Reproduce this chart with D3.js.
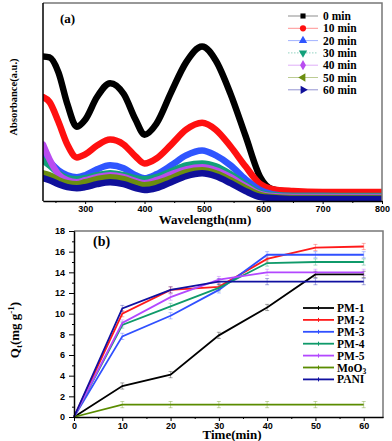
<!DOCTYPE html>
<html>
<head>
<meta charset="utf-8">
<script src="https://cdn.jsdelivr.net/npm/d3@7"></script>
<style>
body{margin:0;background:#fff;}
.tick text{font-family:"Liberation Sans",Arial,sans-serif;font-weight:bold;font-size:9px;}
.lbl{font-family:"Liberation Serif","Times New Roman",serif;font-weight:bold;}
</style>
</head>
<body>
<script>
//----- panel (a) data: UV-vis spectra -----
var wavelengths = [229,240,255,270,286,300,320,342,365,385,400,420,445,470,497,520,545,570,595,615,650,700,800];
var specLabels = ["0 min","10 min","20 min","30 min","40 min","50 min","60 min"];
var spec0  = [1.46,1.45,1.30,0.98,0.75,0.82,1.05,1.19,1.08,0.82,0.67,0.78,1.10,1.40,1.56,1.42,1.08,0.66,0.24,0.12,0.09,0.08,0.07];
var spec10 = [1.05,1.00,0.80,0.57,0.44,0.47,0.56,0.62,0.57,0.45,0.38,0.43,0.57,0.72,0.79,0.72,0.55,0.35,0.17,0.12,0.10,0.09,0.09];
var spec20 = [0.48,0.40,0.31,0.26,0.24,0.26,0.32,0.36,0.33,0.26,0.23,0.27,0.36,0.46,0.51,0.46,0.36,0.22,0.11,0.07,0.05,0.05,0.04];
var spec30 = [0.41,0.36,0.28,0.23,0.22,0.23,0.26,0.28,0.26,0.23,0.22,0.24,0.30,0.36,0.38,0.35,0.27,0.17,0.08,0.06,0.05,0.05,0.05];
var spec40 = [0.57,0.42,0.27,0.21,0.19,0.21,0.24,0.26,0.24,0.20,0.18,0.21,0.27,0.32,0.34,0.31,0.24,0.15,0.07,0.05,0.04,0.04,0.04];
var spec50 = [0.28,0.26,0.21,0.18,0.17,0.19,0.22,0.24,0.22,0.18,0.16,0.18,0.23,0.29,0.31,0.28,0.21,0.13,0.06,0.04,0.03,0.03,0.03];
var spec60 = [0.23,0.21,0.17,0.14,0.13,0.14,0.17,0.19,0.17,0.13,0.11,0.13,0.19,0.25,0.28,0.25,0.18,0.10,0.04,0.03,0.02,0.02,0.02];
var specSeries = [spec0,spec10,spec20,spec30,spec40,spec50,spec60];
var specColors = ["#000000","#ff1010","#2f55ff","#12a07a","#b94cf0","#6b8e10","#10109a"];
var wlTicks = [300,400,500,600,700,800];

//----- panel (b) data: adsorption vs time -----
var times = [0,10,20,30,40,50,60];
var qLabels = ["PM-1","PM-2","PM-3","PM-4","PM-5","MoO3","PANI"];
var pm1  = [0,3.0,4.1,7.9,10.6,13.8,13.8];
var pm2  = [0,10.0,12.3,12.6,15.3,16.4,16.5];
var pm3  = [0,7.8,9.8,12.3,15.7,15.7,15.7];
var pm4  = [0,8.9,10.7,12.5,14.9,15.0,15.0];
var pm5  = [0,9.1,11.6,13.3,14.0,14.0,14.0];
var moo3 = [0,1.2,1.2,1.2,1.2,1.2,1.2];
var pani = [0,10.5,12.3,13.1,13.1,13.1,13.1];
var qSeries = [pm1,pm2,pm3,pm4,pm5,moo3,pani];
var qErr = [0,0.3,0.3,0.3,0.3,0.3,0.3];
var qColors = ["#000000","#ff1a1a","#3050ff","#0f9a6a","#b348ff","#5a8c00","#1010a0"];
var timeTicks = [0,10,20,30,40,50,60];
var qTicks = [0,2,4,6,8,10,12,14,16,18];

var width = 392, height = 441;

var svg = d3.select("body")
    .append("svg")
    .attr("width", width)
    .attr("height", height);

//=================== panel (a) ===================
var xA = d3.scaleLinear().domain([229,800]).range([43,382]);
var yA = d3.scaleLinear().domain([0,2]).range([201,3]);

svg.append("clipPath").attr("id","clipA")
    .append("rect").attr("x",43).attr("y",3).attr("width",339).attr("height",198);

var lineA = d3.line()
    .x(function(d,i){ return xA(wavelengths[i]); })
    .y(function(d){ return yA(d); })
    .curve(d3.curveMonotoneX);

svg.append("g").attr("clip-path","url(#clipA)")
    .selectAll(".spec")
    .data(specSeries)
    .enter()
    .append("path")
    .attr("class","spec")
    .attr("fill","none")
    .attr("stroke", function(d,i){ return specColors[i]; })
    .attr("stroke-width", 6.5)
    .attr("stroke-linecap","round")
    .attr("d", lineA);

//frame top/right
svg.append("path")
    .attr("d","M43,3H382V201")
    .attr("fill","none").attr("stroke","#777").attr("stroke-width",1.5);

//x axis
svg.append("g")
    .attr("transform","translate(0,201)")
    .call(d3.axisBottom(xA).tickValues(d3.range(250,800,100)).tickSize(2).tickFormat("").tickSizeOuter(0));
svg.append("g")
    .attr("transform","translate(0,201)")
    .call(d3.axisBottom(xA).tickValues(wlTicks).tickSize(3).tickPadding(2).tickSizeOuter(0))
    .call(function(g){ g.select(".domain").attr("stroke-width",1.5); });
//left axis line, no ticks
svg.append("line").attr("x1",43).attr("x2",43).attr("y1",3).attr("y2",201)
    .attr("stroke","#000").attr("stroke-width",1.5);

svg.append("text").attr("class","lbl")
    .attr("x",60).attr("y",23).attr("font-size",13)
    .text("(a)");

svg.append("text").attr("class","lbl")
    .attr("x",205).attr("y",224).attr("font-size",13)
    .attr("text-anchor","middle")
    .text("Wavelength(nm)");

svg.append("text").attr("class","lbl")
    .attr("transform","translate(17,97) rotate(-90)")
    .attr("font-size",10.5).attr("text-anchor","middle")
    .text("Absorbance(a.u.)");

//legend (a)
var symTypes = [d3.symbolSquare,d3.symbolCircle,d3.symbolTriangle,d3.symbolTriangle,d3.symbolDiamond,d3.symbolTriangle,d3.symbolTriangle];
var symRot = [0,0,0,180,0,-90,90];
var legA = svg.selectAll(".legA")
    .data(specLabels)
    .enter()
    .append("g")
    .attr("class","legA")
    .attr("transform", function(d,i){ return "translate(0," + (16 + i*12.3) + ")"; });
legA.append("line")
    .attr("x1",288).attr("x2",318)
    .attr("stroke", function(d,i){ return specColors[i]; })
    .attr("stroke-opacity",0.45)
    .attr("stroke-dasharray", function(d,i){ return i==3 ? "1.5,1.5" : null; })
    .attr("stroke-width",1);
legA.append("path")
    .attr("d", function(d,i){ return d3.symbol().type(symTypes[i]).size(i==0 ? 26 : 30)(); })
    .attr("transform", function(d,i){ return "translate(303,0) rotate(" + symRot[i] + ")"; })
    .attr("fill", function(d,i){ return specColors[i]; });
legA.append("text").attr("class","lbl")
    .attr("x",323).attr("dy","0.35em").attr("font-size",11.5)
    .text(function(d){ return d; });

//=================== panel (b) ===================
var xB = d3.scaleLinear().domain([0,64]).range([74,383]);
var yB = d3.scaleLinear().domain([0,18]).range([417,231]);

//frame top/right
svg.append("path")
    .attr("d","M74,231H383V417")
    .attr("fill","none").attr("stroke","#777").attr("stroke-width",1.5);

var lineB = d3.line()
    .x(function(d,i){ return xB(times[i]); })
    .y(function(d){ return yB(d); });

//error bars
qSeries.forEach(function(s,k){
    var eb = svg.append("g")
        .attr("stroke", qColors[k])
        .attr("stroke-opacity",0.35)
        .attr("stroke-width",1);
    s.forEach(function(v,i){
        if (qErr[i] == 0) return;
        var x = xB(times[i]);
        eb.append("line").attr("x1",x).attr("x2",x).attr("y1",yB(v-qErr[i])).attr("y2",yB(v+qErr[i]));
        eb.append("line").attr("x1",x-2).attr("x2",x+2).attr("y1",yB(v-qErr[i])).attr("y2",yB(v-qErr[i]));
        eb.append("line").attr("x1",x-2).attr("x2",x+2).attr("y1",yB(v+qErr[i])).attr("y2",yB(v+qErr[i]));
    });
});

svg.selectAll(".qline")
    .data(qSeries)
    .enter()
    .append("path")
    .attr("class","qline")
    .attr("fill","none")
    .attr("stroke", function(d,i){ return qColors[i]; })
    .attr("stroke-width",1.8)
    .attr("d", lineB);

//axes (b)
svg.append("g")
    .attr("transform","translate(0,417)")
    .call(d3.axisBottom(xB).tickValues(d3.range(5,65,10)).tickSize(2).tickFormat("").tickSizeOuter(0));
svg.append("g")
    .attr("transform","translate(0,417)")
    .call(d3.axisBottom(xB).tickValues(timeTicks).tickSize(4).tickPadding(2).tickSizeOuter(0))
    .call(function(g){ g.select(".domain").attr("stroke-width",1.5); });
svg.append("g")
    .attr("transform","translate(74,0)")
    .call(d3.axisLeft(yB).tickValues(d3.range(1,18,2)).tickSize(2).tickFormat("").tickSizeOuter(0));
svg.append("g")
    .attr("transform","translate(74,0)")
    .call(d3.axisLeft(yB).tickValues(qTicks).tickSize(5).tickPadding(4).tickSizeOuter(0))
    .call(function(g){ g.select(".domain").attr("stroke-width",1.5); });

svg.append("text").attr("class","lbl")
    .attr("x",93).attr("y",246).attr("font-size",14)
    .text("(b)");

svg.append("text").attr("class","lbl")
    .attr("x",232).attr("y",439).attr("font-size",13)
    .attr("text-anchor","middle")
    .text("Time(min)");

var qLab = svg.append("text").attr("class","lbl")
    .attr("transform","translate(19,330) rotate(-90)")
    .attr("font-size",13).attr("text-anchor","middle");
qLab.append("tspan").text("Q");
qLab.append("tspan").attr("font-size",9).attr("dy",3).text("t");
qLab.append("tspan").attr("dy",-3).text("(mg g");
qLab.append("tspan").attr("font-size",9).attr("dy",-5).text("-1");
qLab.append("tspan").attr("dy",5).text(")");

//legend (b)
var legB = svg.selectAll(".legB")
    .data(qLabels)
    .enter()
    .append("g")
    .attr("class","legB")
    .attr("transform", function(d,i){ return "translate(0," + (308 + i*11.9) + ")"; });
legB.append("line")
    .attr("x1",303).attr("x2",334)
    .attr("stroke", function(d,i){ return qColors[i]; })
    .attr("stroke-width",1.8);
legB.append("line")
    .attr("x1",318.5).attr("x2",318.5).attr("y1",-2).attr("y2",2)
    .attr("stroke", function(d,i){ return qColors[i]; })
    .attr("stroke-width",1);
var legBText = legB.append("text").attr("class","lbl")
    .attr("x",337).attr("dy","0.35em").attr("font-size",11.5);
legBText.each(function(d){
    var t = d3.select(this);
    if (d == "MoO3"){
        t.append("tspan").text("MoO");
        t.append("tspan").attr("font-size",7.5).attr("dy",2.5).text("3");
    } else {
        t.text(d);
    }
});
</script>
</body>
</html>
